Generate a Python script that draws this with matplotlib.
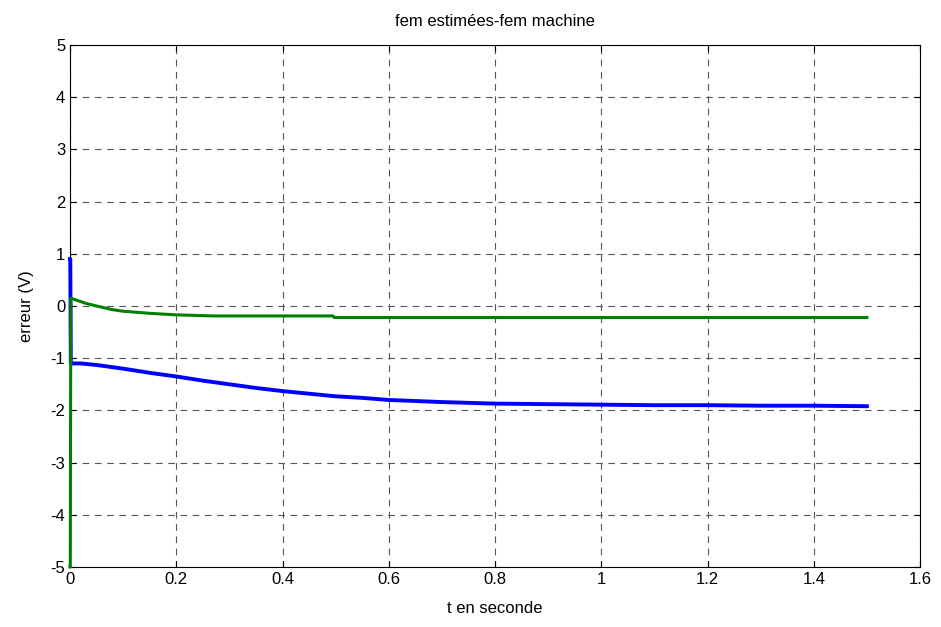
import matplotlib.pyplot as plt

# erreur fem (bleu)
t_bleu = [0, 0.0005, 0.0015, 0.02, 0.05, 0.1, 0.15, 0.2, 0.25, 0.3, 0.35, 0.4, 0.45,
          0.5, 0.55, 0.6, 0.7, 0.8, 0.9, 1.0, 1.1, 1.2, 1.3, 1.4, 1.5]
e_bleu = [0.9, 0.9, -1.1, -1.1, -1.13, -1.2, -1.28, -1.35, -1.43, -1.5, -1.57, -1.63, -1.68,
          -1.73, -1.76, -1.8, -1.84, -1.87, -1.88, -1.89, -1.9, -1.9, -1.91, -1.91, -1.92]

# erreur fem (vert)
t_vert = [0, 0.0005, 0.0015, 0.01, 0.03, 0.05, 0.08, 0.1, 0.15, 0.2, 0.27, 0.3, 0.495, 0.497, 1.5]
e_vert = [-5, -5, 0.15, 0.12, 0.05, 0.0, -0.07, -0.1, -0.14, -0.17, -0.19, -0.19, -0.19, -0.22, -0.22]

xticks = [0, 0.2, 0.4, 0.6, 0.8, 1, 1.2, 1.4, 1.6]
yticks = [-5, -4, -3, -2, -1, 0, 1, 2, 3, 4, 5]

plt.rcParams['font.family'] = ['Liberation Sans', 'DejaVu Sans']
plt.rcParams['axes.unicode_minus'] = False

fig = plt.figure(figsize=(9.41, 6.27), dpi=100)
ax = fig.add_axes([0.0744, 0.0957, 0.9033, 0.8325])

ax.plot(t_bleu, e_bleu, color='#0000ff', linewidth=2.8, clip_on=False, zorder=3)
ax.plot(t_vert, e_vert, color='#008000', linewidth=2.2, clip_on=False, zorder=4)

ax.set_xlim(0, 1.6)
ax.set_ylim(-5, 5)
ax.set_xticks(xticks)
ax.set_xticklabels(['0', '0.2', '0.4', '0.6', '0.8', '1', '1.2', '1.4', '1.6'])
ax.set_yticks(yticks)
ax.tick_params(direction='in', labelsize=12, length=4, top=True, right=True)
ax.grid(True, color='#555555', linestyle=(0, (6, 5)), linewidth=0.8)
for s in ax.spines.values():
    s.set_linewidth(0.8)

ax.set_xlabel('t en seconde', fontsize=12, labelpad=10)
ax.set_ylabel('erreur (V)', fontsize=12, labelpad=12)
ax.set_title('fem estimées-fem machine', fontsize=12, pad=14)

fig.savefig('out.png', dpi=100)
